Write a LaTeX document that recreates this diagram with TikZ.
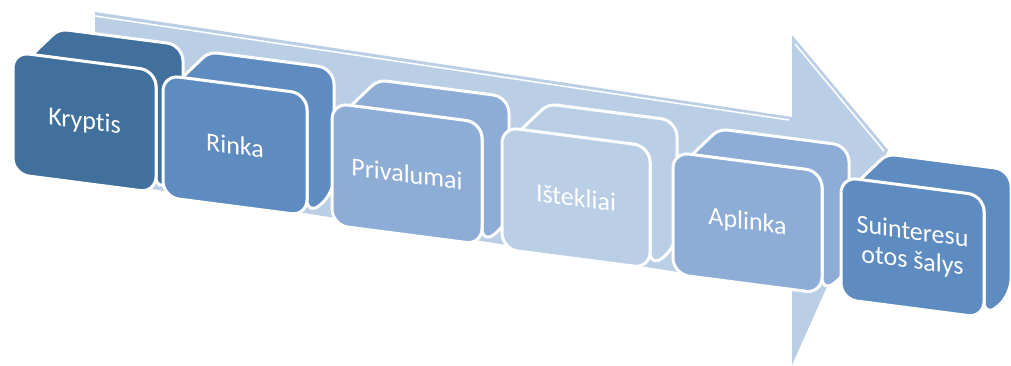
\documentclass[tikz,border=0pt]{standalone}
\usepackage{fontspec}
\setmainfont{Carlito}[Ligatures=NoCommon]
\definecolor{darkblue}{HTML}{41709C}
\definecolor{midblue}{HTML}{5E8CC0}
\definecolor{softblue}{HTML}{8EADD6}
\definecolor{paleblue}{HTML}{BACEE6}

\begin{document}
\begin{tikzpicture}[x=1pt, y=-1pt,
  boxface/.style = {draw=white, line width=3pt, rounded corners=16pt, line join=round},
  boxtext/.style = {text=white, font=\fontsize{26}{29}\selectfont, align=center, transform shape}]
\useasboundingbox (0,0) rectangle (1011,365);
% big arrow behind the boxes
\fill[paleblue] (95,12) -- (792,117) -- (792,35) -- (888,150) -- (792,365) -- (792,290) -- (95,180) -- cycle;
\draw[white, line width=1.5pt] (95,16) -- (789,120);
\draw[white, line width=1.5pt] (795,44) -- (884,151);
% the six boxes, each one a bit lower
\foreach \i/\x/\y/\w/\col/\txt in {1/13/52/143/darkblue/Kryptis, 2/163/75/144/midblue/Rinka,
  3/332/103/150/softblue/Privalumai, 4/502/127/148/paleblue/Ištekliai,
  5/673/152/149/softblue/Aplinka, 6/841/177/143/midblue/{Suinteresu\\otos šalys}} {
  \begin{scope}[shift={(\x,\y)}, yslant=-0.13]
    % top and side faces, then the front on top of them
    \path[fill=\col, boxface, rounded corners=8pt] (10,10) -- (46,-29) [rounded corners=16pt] -- (\w+27,-29)
      -- (\w+27,96) -- (\w,122) -- (\w,0) -- cycle;
    \path[fill=\col, boxface] (0,0) rectangle (\w,122);
    \node[boxtext] (b\i) at (\w/2,61) {\txt};
  \end{scope}
}
\end{tikzpicture}
\end{document}
